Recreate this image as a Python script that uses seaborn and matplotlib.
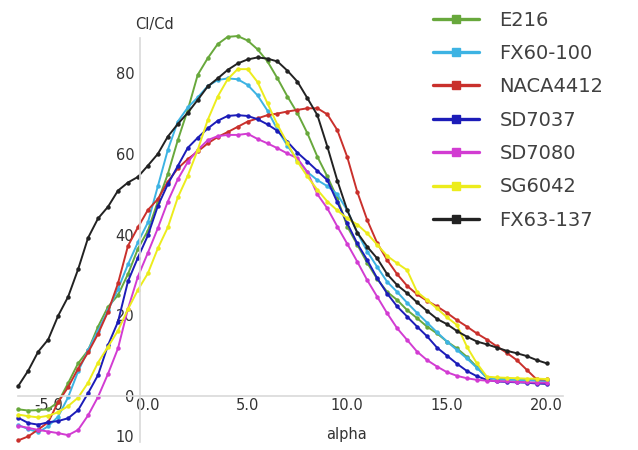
import numpy as np
import pandas as pd
import matplotlib
matplotlib.use("Agg")
import matplotlib.pyplot as plt
import seaborn as sns
from matplotlib.lines import Line2D

alpha = [-6.5, -6.0, -5.5, -5.0, -4.5, -4.0, -3.5, -3.0, -2.5, -2.0,
         -1.5, -1.0, -0.5, 0.0, 0.5, 1.0, 1.5, 2.0, 2.5, 3.0,
         3.5, 4.0, 4.5, 5.0, 5.5, 6.0, 6.5, 7.0, 7.5, 8.0,
         8.5, 9.0, 9.5, 10.0, 10.5, 11.0, 11.5, 12.0, 12.5, 13.0,
         13.5, 14.0, 14.5, 15.0, 15.5, 16.0, 16.5, 17.0, 17.5, 18.0,
         18.5, 19.0, 19.5, 20.0]

e216 = [-3.3, -3.6, -3.5, -3.3, -1.5, 3.2, 8.1, 11.3, 17.2, 22.1,
        25.0, 30.2, 36.5, 41.0, 48.2, 55.0, 63.4, 70.9, 79.6, 83.7,
        87.2, 89.0, 89.2, 88.1, 85.9, 82.9, 78.7, 74.2, 70.1, 65.1,
        59.3, 54.4, 49.0, 42.0, 37.5, 33.0, 29.0, 25.8, 23.8, 21.3,
        19.3, 17.2, 15.5, 13.5, 11.8, 9.7, 7.2, 4.5, 4.3, 4.2,
        4.1, 4.0, 3.9, 3.9]
fx60_100 = [-7.2, -8.2, -9.0, -7.5, -5.1, -0.3, 6.1, 11.4, 16.2, 21.2,
            26.5, 32.6, 38.1, 43.0, 52.0, 61.0, 68.0, 71.5, 74.0, 76.8,
            78.3, 78.7, 78.5, 77.1, 74.5, 70.7, 66.0, 62.0, 58.5, 55.5,
            53.5, 52.0, 50.0, 46.0, 40.5, 35.8, 32.0, 28.3, 25.8, 23.1,
            20.6, 18.2, 15.8, 13.5, 11.4, 9.3, 7.0, 4.5, 4.2, 4.0,
            4.0, 3.9, 3.8, 3.7]
naca4412 = [-11.0, -10.0, -8.3, -6.5, -1.5, 2.2, 6.8, 10.8, 15.4, 20.9,
            27.9, 37.2, 41.8, 46.1, 48.8, 53.1, 56.4, 58.7, 60.6, 62.6,
            64.2, 65.4, 66.7, 68.0, 68.8, 69.6, 70.0, 70.5, 70.9, 71.3,
            71.3, 69.8, 65.9, 59.2, 50.6, 43.6, 37.9, 33.7, 30.2, 27.3,
            25.2, 23.6, 22.2, 20.6, 18.8, 17.2, 15.5, 14.0, 12.3, 10.7,
            8.9, 6.5, 4.1, 4.1]
sd7037 = [-5.4, -6.7, -7.1, -6.5, -6.2, -5.5, -3.5, 0.7, 5.2, 12.6,
          18.4, 28.4, 34.3, 39.8, 47.1, 52.5, 57.0, 61.5, 64.0, 66.3,
          68.2, 69.4, 69.6, 69.4, 68.6, 67.3, 65.7, 63.0, 60.3, 58.1,
          55.8, 53.5, 48.0, 42.8, 37.8, 33.7, 29.2, 25.4, 22.2, 19.7,
          17.2, 14.8, 12.0, 10.0, 8.0, 6.2, 4.9, 4.0, 3.6, 3.5,
          3.4, 3.3, 3.1, 3.0]
sd7080 = [-7.4, -7.9, -8.4, -8.8, -9.2, -9.7, -8.4, -4.8, -0.2, 5.5,
          11.8, 21.6, 29.6, 35.5, 41.6, 48.2, 53.7, 58.0, 61.0, 63.4,
          64.4, 64.7, 64.7, 65.0, 63.7, 62.6, 61.4, 60.1, 58.9, 55.5,
          50.0, 46.5, 42.0, 37.7, 33.3, 28.7, 24.6, 20.5, 16.8, 13.9,
          11.0, 8.9, 7.3, 5.9, 5.0, 4.4, 4.0, 3.8, 3.7, 3.6,
          3.5, 3.4, 3.3, 3.3]
sg6042 = [-4.6, -5.0, -5.3, -4.9, -4.0, -2.5, -0.4, 3.3, 8.3, 12.2,
          16.2, 21.5, 26.3, 30.4, 36.6, 41.8, 49.2, 54.6, 61.0, 68.4,
          74.2, 78.5, 81.0, 81.0, 77.8, 72.5, 67.2, 62.6, 58.1, 54.4,
          51.1, 48.2, 46.0, 44.0, 42.5, 40.3, 37.5, 34.7, 32.9, 31.2,
          25.8, 23.8, 21.7, 19.5, 17.6, 12.2, 8.1, 4.8, 4.6, 4.5,
          4.4, 4.3, 4.3, 4.2]
fx63_137 = [2.5, 6.3, 11.0, 14.0, 19.9, 24.6, 31.4, 39.2, 44.0, 46.9,
            50.9, 52.9, 54.3, 57.1, 60.0, 64.3, 67.4, 70.2, 73.4, 76.7,
            78.7, 80.8, 82.4, 83.4, 83.9, 83.6, 82.9, 80.6, 77.9, 73.8,
            69.6, 61.8, 53.4, 46.0, 40.5, 37.0, 34.1, 30.2, 27.5, 25.5,
            23.2, 21.1, 19.1, 17.8, 16.1, 14.7, 13.5, 12.8, 12.0, 11.2,
            10.6, 9.9, 8.9, 8.1]

names = ["E216", "FX60-100", "NACA4412", "SD7037", "SD7080", "SG6042", "FX63-137"]
series = [e216, fx60_100, naca4412, sd7037, sd7080, sg6042, fx63_137]
colors = ["#68a83c", "#3db3e3", "#c9302c", "#1c1cb8", "#d23cd2", "#ecec1c", "#222222"]

xticks = [-5, 0, 5, 10, 15, 20]
xticklabels = ["-5.0", "0.0", "5.0", "10.0", "15.0", "20.0"]
yticks = [-10, 0, 20, 40, 60, 80]
yticklabels = ["10", "0", "20", "40", "60", "80"]

df = pd.concat([pd.DataFrame({"alpha": alpha, "ClCd": s, "airfoil": n})
                for n, s in zip(names, series)], ignore_index=True)

sns.set_theme(style="white")
plt.rcParams["font.family"] = ["DejaVu Sans"]

W, H = 638, 450
fig = plt.figure(figsize=(W / 100, H / 100), dpi=100)
ax = fig.add_axes([10 / W, 5 / H, 560 / W, 415 / H])

sns.lineplot(data=df, x="alpha", y="ClCd", hue="airfoil", hue_order=names,
             palette=dict(zip(names, colors)), marker="o", markersize=3.2,
             markeredgewidth=0, linewidth=1.4, estimator=None, sort=False,
             legend=False, ax=ax)

ax.set_xlim(-6.916, 21.17)
ax.set_ylim(-12.14, 90.7)

for side in ["top", "right"]:
    ax.spines[side].set_visible(False)
ax.spines["left"].set_position(("data", -0.4))
ax.spines["bottom"].set_position(("data", 0))
ax.spines["left"].set_bounds(-11.4, 88.6)
ax.spines["bottom"].set_bounds(-6.5, 20.8)
for side in ["left", "bottom"]:
    ax.spines[side].set_color("#d9d9d9")
    ax.spines[side].set_linewidth(1.2)

ax.set_xticks(xticks)
ax.set_xticklabels(xticklabels)
ax.set_yticks(yticks)
ax.set_yticklabels(yticklabels)
ax.tick_params(axis="x", length=0, pad=1.5, labelsize=10.5, labelcolor="#333333")
ax.tick_params(axis="y", length=0, pad=4, labelsize=10.5, labelcolor="#333333")
ax.set_xlabel("")
ax.set_ylabel("")

fig.text(155 / W, 1 - 25 / H, "Cl/Cd", ha="center", va="center",
         fontsize=10.5, color="#333333")
fig.text(346 / W, 1 - 434 / H, "alpha", ha="center", va="center",
         fontsize=10.5, color="#333333")

handles = [Line2D([0], [0], color=c, lw=2.4, marker="s", markersize=6)
           for c in colors]
leg = fig.legend(handles, names, loc="upper left",
                 bbox_to_anchor=(433 / W, 1 - 10.5 / H), frameon=False,
                 fontsize=14, handlelength=2.37, handletextpad=1.05,
                 labelspacing=0.74, borderpad=0, borderaxespad=0)
for t in leg.get_texts():
    t.set_color("#404040")

fig.savefig("out.png", dpi=100)
